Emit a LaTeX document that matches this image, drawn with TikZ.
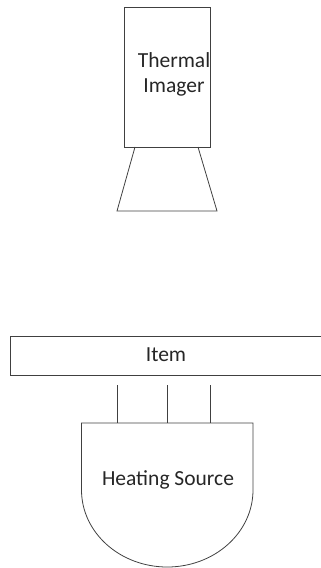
\documentclass[tikz,border=0pt]{standalone}
\usepackage{fontspec}
\setmainfont{Carlito}
\begin{document}
\begin{tikzpicture}[x=1bp,y=-1bp,
  outline/.style={draw=black!75, line width=0.8bp},
  lbl/.style={font=\fontsize{21.5bp}{25bp}\selectfont, text=black!85, align=center, inner sep=0pt}]
\useasboundingbox (0,0) rectangle (320,568);
% Thermal imager
\draw[outline] (124,7) rectangle (210,147);
\node[lbl, anchor=base] (imager) at (174,93) {Thermal\\Imager};
\coordinate (lt) at (135,147);
\coordinate (rt) at (198,147);
\coordinate (lb) at (117,211);
\coordinate (rb) at (217,211);
\draw[outline] (lt) -- (lb) -- (rb) -- (rt);
% Item
\draw[outline] (10,336) rectangle (321,375);
\node[lbl, anchor=base] (item) at (166,361) {Item};
% Heater lines
\foreach \x in {117,167,210} {
  \draw[outline] (\x,385) -- (\x,423);
}
% Heating source
\draw[outline] (81.5,423) -- (253,423) -- (253,490) arc[start angle=0, end angle=180, x radius=85.75, y radius=77] -- cycle;
\node[lbl, anchor=base] (heat) at (168,485) {Heating Source};
\end{tikzpicture}
\end{document}
